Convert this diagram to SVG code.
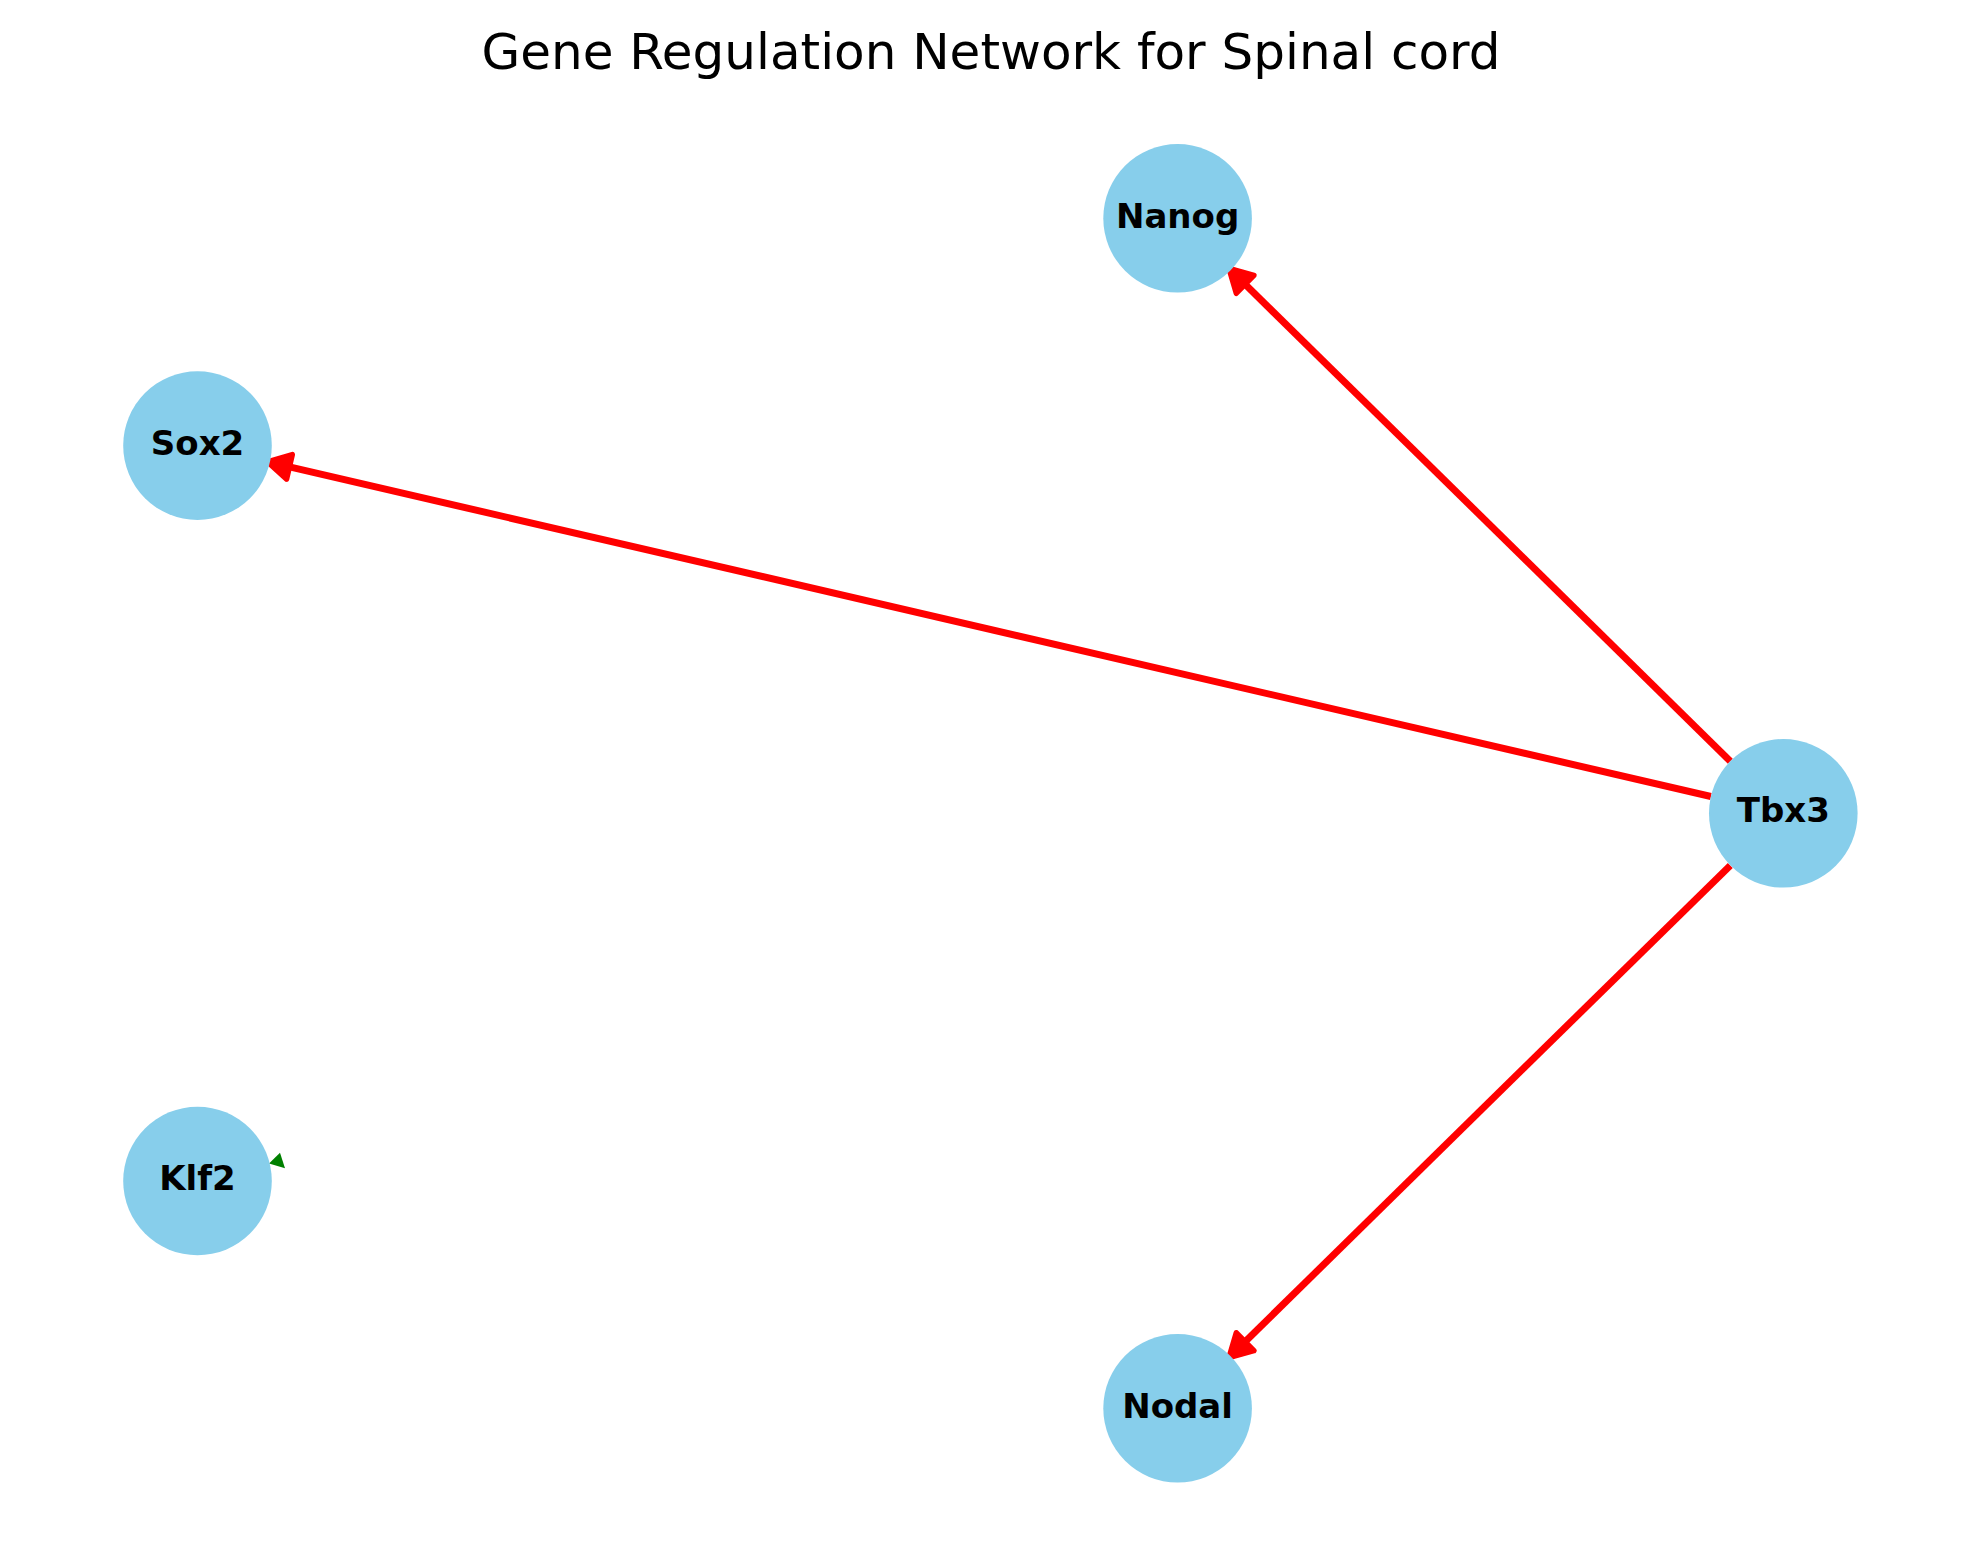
<svg xmlns="http://www.w3.org/2000/svg" width="1980" height="1563" viewBox="0 0 1980 1563">
<style>
.node{fill:#87CEEB;}
.lbl{font-family:"DejaVu Sans",sans-serif;font-weight:bold;font-size:34px;fill:#000;text-anchor:middle;}
.title{font-family:"DejaVu Sans",sans-serif;font-size:50px;fill:#000;text-anchor:middle;}
.edge{stroke:#FF0000;stroke-width:7;fill:none;}
</style>
<defs>
<marker id="ah" markerUnits="userSpaceOnUse" orient="auto" markerWidth="40" markerHeight="40" viewBox="-5 -15 30 30" refX="0" refY="0" overflow="visible">
<path d="M0,-9.5 L17,0 L0,9.5 Z" fill="#FF0000" stroke="#FF0000" stroke-width="4" stroke-linejoin="round"/>
</marker>
</defs>
<rect width="1980" height="1563" fill="#fff"/>
<text class="title" x="991" y="68.5">Gene Regulation Network for Spinal cord</text>
<g id="edges">
<line class="edge" x1="1730.3" y1="761.2" x2="1245.1" y2="284.3" marker-end="url(#ah)"/>
<line class="edge" x1="1710.9" y1="796.5" x2="289.5" y2="466.9" marker-end="url(#ah)"/>
<line class="edge" x1="1730.3" y1="865.4" x2="1245.1" y2="1341.7" marker-end="url(#ah)"/>
<polygon points="269,1163.5 280,1152.7 285,1168.3" fill="#008000"/>
</g>
<g id="node-Nanog"><circle class="node" cx="1177.6" cy="218.3" r="74.3"/><text class="lbl" x="1177.6" y="227.5">Nanog</text></g>
<g id="node-Sox2"><circle class="node" cx="197.5" cy="445.6" r="74.3"/><text class="lbl" x="197.5" y="454.8">Sox2</text></g>
<g id="node-Tbx3"><circle class="node" cx="1783.3" cy="813.3" r="74.3"/><text class="lbl" x="1783.3" y="822">Tbx3</text></g>
<g id="node-Klf2"><circle class="node" cx="197.5" cy="1181" r="74.3"/><text class="lbl" x="197.5" y="1190">Klf2</text></g>
<g id="node-Nodal"><circle class="node" cx="1177.6" cy="1408.3" r="74.3"/><text class="lbl" x="1177.6" y="1417.5">Nodal</text></g>
</svg>
